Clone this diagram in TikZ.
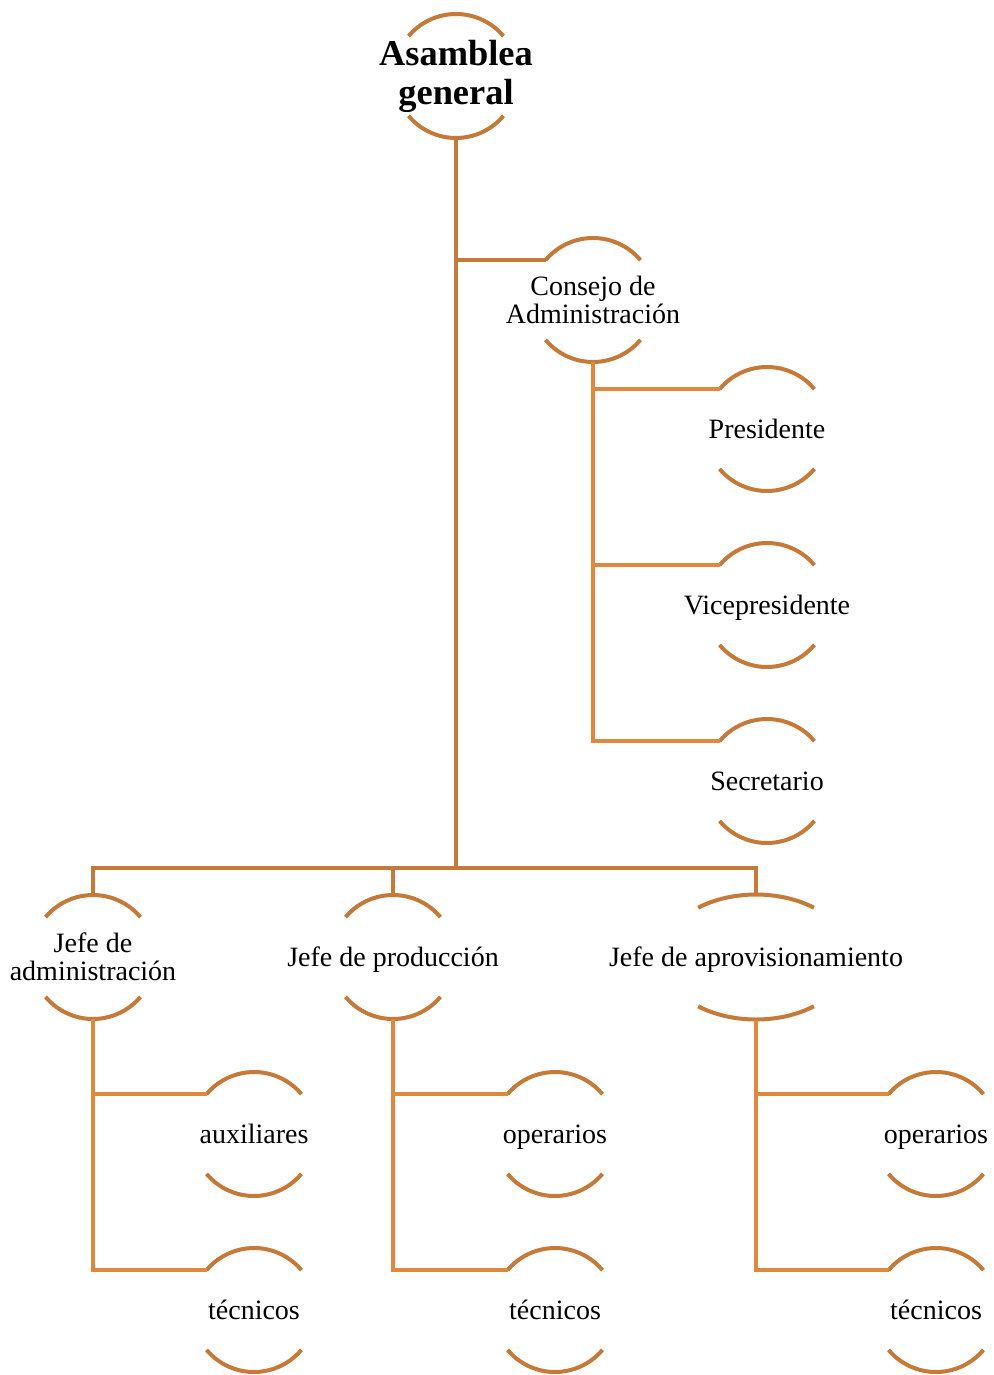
\documentclass[tikz,border=0pt]{standalone}
\usepackage{fontspec}
\setmainfont{Liberation Serif}
\usetikzlibrary{calc}
\definecolor{orgdark}{RGB}{197,122,57}
\definecolor{orglight}{RGB}{224,137,62}
\tikzset{
  role/.style={align=center, inner sep=0pt, font=\fontsize{14}{14}\selectfont},
  oneline/.style={role, text height=9.5pt, text depth=0pt},
  toprole/.style={align=center, inner sep=0pt, font=\fontsize{18.2}{19.5}\selectfont\bfseries},
  arcline/.style={line width=2pt, color=orgdark},
  link/.style={line width=2pt, color=orgdark},
  sublink/.style={line width=2pt, color=orglight}
}
\begin{document}
\begin{tikzpicture}[x=0.5pt, y=0.5pt]
  \useasboundingbox (0,0) rectangle (993,-1375);
  % roles
  \node[toprole] (asam) at (456,-76) {Asamblea\\general};
  \node[role] (consejo) at (593,-300) {Consejo de\\Administración};
  \node[oneline] (pres) at (767,-429) {Presidente};
  \node[oneline] (vice) at (767,-605) {Vicepresidente};
  \node[oneline] (sec) at (767,-781) {Secretario};
  \node[role] (adm) at (93,-957) {Jefe de\\administración};
  \node[oneline] (prod) at (393,-957) {Jefe de producción};
  \node[oneline] (aprov) at (756,-957) {Jefe de aprovisionamiento};
  \node[oneline] (aux) at (254,-1134) {auxiliares};
  \node[oneline] (tecadm) at (254,-1310) {técnicos};
  \node[oneline] (opprod) at (555,-1134) {operarios};
  \node[oneline] (tecprod) at (555,-1310) {técnicos};
  \node[oneline] (opaprov) at (936,-1134) {operarios};
  \node[oneline] (tecaprov) at (936,-1310) {técnicos};
  % arcs round each role
  \foreach \n in {asam, consejo, pres, vice, sec, adm, prod, aux, tecadm, opprod, tecprod, opaprov, tecaprov} {
    \draw[arcline] ([shift={(40:31pt)}]\n.center) arc[start angle=40, end angle=140, radius=31pt];
    \draw[arcline] ([shift={(220:31pt)}]\n.center) arc[start angle=220, end angle=320, radius=31pt];
    \coordinate (\n-top) at ([yshift=31pt]\n.center);
    \coordinate (\n-bot) at ([yshift=-31pt]\n.center);
    \coordinate (\n-left) at ([shift={(140:31pt)}]\n.center);
  }
  \draw[arcline] ([shift={(52:47pt and 31.25pt)}]aprov.center) arc[start angle=52, end angle=128, x radius=47pt, y radius=31.25pt];
  \draw[arcline] ([shift={(232:47pt and 31.25pt)}]aprov.center) arc[start angle=232, end angle=308, x radius=47pt, y radius=31.25pt];
  \coordinate (aprov-top) at ([yshift=31.25pt]aprov.center);
  \coordinate (aprov-bot) at ([yshift=-31.25pt]aprov.center);
  % main lines
  \coordinate (bus) at (456,-868);
  \draw[link] (asam-bot) -- (bus);
  \draw[link] (adm-top) |- (bus) -| (aprov-top);
  \draw[link] (prod-top) -- (prod-top |- bus);
  \draw[link] (consejo-left) -- (consejo-left -| asam-bot);
  % consejo members
  \draw[sublink] (consejo-bot) |- (sec-left);
  \draw[sublink] (pres-left) -- (pres-left -| consejo-bot);
  \draw[sublink] (vice-left) -- (vice-left -| consejo-bot);
  % staff under each jefe
  \draw[sublink] (adm-bot) |- (tecadm-left);
  \draw[sublink] (aux-left) -- (aux-left -| adm-bot);
  \draw[sublink] (prod-bot) |- (tecprod-left);
  \draw[sublink] (opprod-left) -- (opprod-left -| prod-bot);
  \draw[sublink] (aprov-bot) |- (tecaprov-left);
  \draw[sublink] (opaprov-left) -- (opaprov-left -| aprov-bot);
\end{tikzpicture}
\end{document}
